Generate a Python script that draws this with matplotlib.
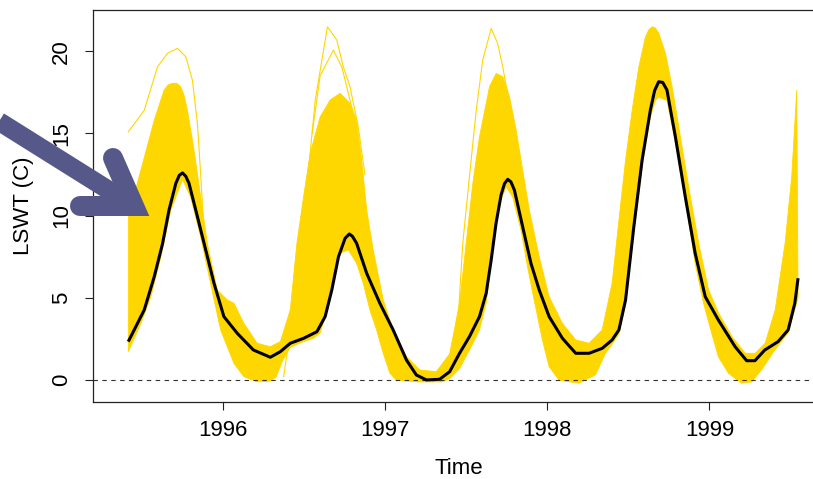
import matplotlib
matplotlib.use("Agg")
import matplotlib.pyplot as plt
from matplotlib.lines import Line2D

plt.rcParams['font.family'] = ['Liberation Sans', 'DejaVu Sans']

# ensemble mean lake surface water temperature
mean_t = [1995.419, 1995.517, 1995.579, 1995.63, 1995.67, 1995.712, 1995.733, 1995.753,
          1995.773, 1995.793, 1995.845, 1995.896, 1995.947, 1996.008, 1996.09, 1996.19,
          1996.294, 1996.356, 1996.417, 1996.499, 1996.581, 1996.632, 1996.673, 1996.714,
          1996.755, 1996.781, 1996.80, 1996.826, 1996.888, 1996.969, 1997.051, 1997.133,
          1997.194, 1997.256, 1997.337, 1997.399, 1997.46, 1997.521, 1997.583, 1997.624,
          1997.655, 1997.685, 1997.716, 1997.737, 1997.757, 1997.777, 1997.798, 1997.849,
          1997.9, 1997.951, 1998.012, 1998.094, 1998.176, 1998.258, 1998.339, 1998.4,
          1998.442, 1998.483, 1998.534, 1998.585, 1998.636, 1998.662, 1998.687, 1998.712,
          1998.738, 1998.79, 1998.851, 1998.912, 1998.974, 1999.055, 1999.158, 1999.229,
          1999.28, 1999.341, 1999.423, 1999.485, 1999.526, 1999.546]
mean_v = [2.35, 4.27, 6.3, 8.3, 10.35, 11.97, 12.45, 12.6,
          12.4, 11.97, 9.94, 7.92, 5.9, 3.87, 2.86, 1.84,
          1.4, 1.74, 2.25, 2.55, 2.95, 3.87, 5.49, 7.5,
          8.63, 8.89, 8.75, 8.32, 6.5, 4.68, 3.06, 1.23,
          0.32, 0.02, 0.06, 0.52, 1.64, 2.65, 3.87, 5.28,
          7.31, 9.54, 11.26, 11.95, 12.21, 12.05, 11.56, 9.33,
          7.11, 5.49, 3.87, 2.55, 1.64, 1.64, 1.94, 2.45,
          3.06, 4.88, 9.33, 13.38, 16.42, 17.6, 18.14, 18.1,
          17.64, 14.8, 11.15, 7.72, 5.08, 3.66, 2.04, 1.19,
          1.19, 1.84, 2.35, 3.06, 4.68, 6.2]

# upper edge of the ensemble spread
hi_t = [1995.419, 1995.497, 1995.579, 1995.64, 1995.665, 1995.69, 1995.716, 1995.742,
        1995.763, 1995.783, 1995.824, 1995.865, 1995.906, 1995.967, 1996.029, 1996.07,
        1996.131, 1996.213, 1996.294, 1996.356, 1996.417, 1996.458, 1996.499, 1996.54,
        1996.601, 1996.663, 1996.724, 1996.785, 1996.826, 1996.857, 1996.888, 1996.928,
        1996.99, 1997.051, 1997.133, 1997.215, 1997.317, 1997.399, 1997.46, 1997.501,
        1997.542, 1997.583, 1997.645, 1997.686, 1997.727, 1997.768, 1997.809, 1997.849,
        1997.89, 1997.951, 1998.012, 1998.094, 1998.176, 1998.258, 1998.339, 1998.4,
        1998.442, 1998.483, 1998.524, 1998.565, 1998.606, 1998.627, 1998.647, 1998.668,
        1998.688, 1998.729, 1998.77, 1998.821, 1998.872, 1998.934, 1998.995, 1999.057,
        1999.139, 1999.221, 1999.282, 1999.343, 1999.405, 1999.466, 1999.507, 1999.538]
hi_v = [9.94, 12.78, 15.8, 17.64, 17.95, 18.04, 18.05, 17.84,
        17.3, 16.42, 14.0, 11.15, 8.32, 5.49, 4.88, 4.68,
        3.46, 2.25, 2.04, 2.35, 4.27, 8.32, 11.15, 13.79,
        16.0, 17.03, 17.44, 16.83, 15.81, 13.38, 10.35, 7.92,
        4.88, 3.06, 1.43, 0.63, 0.52, 1.6, 4.68, 8.32,
        11.97, 14.8, 17.84, 18.65, 18.44, 17.23, 15.2, 12.78,
        10.35, 7.51, 5.08, 3.46, 2.45, 2.25, 3.06, 5.89,
        9.7, 13.38, 16.42, 19.05, 20.87, 21.3, 21.48, 21.4,
        21.08, 19.87, 17.84, 14.8, 11.76, 8.32, 5.49, 4.07,
        2.65, 1.64, 1.64, 2.25, 4.27, 8.32, 12.37, 17.64]

# lower edge of the ensemble spread
lo_t = [1995.419, 1995.497, 1995.558, 1995.62, 1995.681, 1995.742, 1995.753, 1995.803,
        1995.865, 1995.926, 1995.988, 1996.07, 1996.131, 1996.213, 1996.294, 1996.33,
        1996.37, 1996.417, 1996.499, 1996.56, 1996.601, 1996.642, 1996.683, 1996.724,
        1996.775, 1996.826, 1996.867, 1996.908, 1996.949, 1996.99, 1997.031, 1997.072,
        1997.2, 1997.35, 1997.399, 1997.46, 1997.521, 1997.583, 1997.624, 1997.665,
        1997.706, 1997.747, 1997.787, 1997.839, 1997.879, 1997.92, 1997.971, 1998.012,
        1998.074, 1998.196, 1998.298, 1998.359, 1998.4, 1998.442, 1998.483, 1998.534,
        1998.585, 1998.636, 1998.667, 1998.687, 1998.738, 1998.79, 1998.851, 1998.912,
        1998.963, 1999.014, 1999.055, 1999.117, 1999.198, 1999.26, 1999.321, 1999.403,
        1999.485, 1999.546]
lo_v = [1.74, 3.46, 5.08, 7.5, 10.35, 11.9, 12.2, 11.15,
        8.72, 5.89, 3.06, 1.03, 0.22, -0.1, -0.05, 0.2,
        1.2, 2.0, 2.35, 2.55, 2.86, 4.27, 6.3, 7.72,
        7.92, 7.11, 5.89, 4.27, 3.06, 1.64, 0.43, 0.0,
        -0.1, -0.1, 0.1, 0.7, 1.84, 3.06, 4.68, 7.92,
        10.75, 11.76, 11.15, 9.13, 6.9, 4.88, 2.45, 0.83,
        0.0, -0.18, 0.33, 1.64, 2.2, 2.8, 4.6, 9.0,
        13.0, 16.0, 17.0, 17.2, 17.0, 14.5, 11.0, 7.1,
        4.7, 2.86, 1.43, 0.43, -0.18, -0.1, 0.63, 1.84,
        2.9, 5.0]

# the warmest individual members, standing clear of the spread at the peaks
out1_t = [1995.419, 1995.517, 1995.599, 1995.661, 1995.722, 1995.773, 1995.814, 1995.845,
          1995.865, 1995.88]
out1_v = [15.1, 16.4, 19.05, 19.87, 20.17, 19.66, 18.24, 15.6, 12.5, 10.0]
out2_t = [1996.376, 1996.437, 1996.489, 1996.52, 1996.571, 1996.646, 1996.704, 1996.744,
          1996.785, 1996.836, 1996.877]
out2_v = [0.22, 4.27, 8.9, 11.8, 17.03, 21.48, 20.67, 19.05, 17.84, 15.4, 12.5]
out3_t = [1996.552, 1996.601, 1996.683, 1996.736, 1996.798, 1996.847]
out3_v = [15.0, 18.5, 20.07, 19.0, 16.5, 13.5]
out4_t = [1997.45, 1997.48, 1997.521, 1997.563, 1997.603, 1997.655, 1997.695, 1997.726,
          1997.756]
out4_v = [3.5, 8.32, 12.37, 16.42, 19.46, 21.38, 20.47, 19.05, 17.44]

years = [1996, 1997, 1998, 1999]
temps = [0, 5, 10, 15, 20]

gold = '#FFD700'
W, H = 813, 479

fig = plt.figure(figsize=(W / 100, H / 100), dpi=100)
ax = fig.add_axes([93 / W, 1 - 402 / H, 732 / W, 392 / H])

band_x = hi_t + lo_t[::-1]
band_y = hi_v + lo_v[::-1]
ax.fill(band_x, band_y, color=gold, lw=0.6, ec=gold, zorder=1)
for t, v in [(out1_t, out1_v), (out2_t, out2_v), (out3_t, out3_v), (out4_t, out4_v)]:
    ax.plot(t, v, color=gold, lw=0.8, zorder=1)

ax.axhline(0, color='#333333', lw=0.8, ls=(0, (4, 4)), zorder=2)
ax.plot(mean_t, mean_v, color='black', lw=2.2, zorder=3,
        solid_joinstyle='round', solid_capstyle='butt')

ax.set_xlim(1995.2015, 1999.712)
ax.set_ylim(-1.32, 22.5)
ax.set_xticks(years)
ax.set_yticks(temps)
ax.set_xticklabels([str(y) for y in years])
ax.set_yticklabels([str(v) for v in temps], rotation=90, va='center')
ax.tick_params(axis='both', length=5.8, width=0.8, labelsize=16, color='#222222')
ax.tick_params(axis='x', pad=7)
ax.tick_params(axis='y', pad=9.5)
for s in ax.spines.values():
    s.set_linewidth(0.9)
    s.set_color('#222222')

ax.set_xlabel('Time', fontsize=16, va='center')
ax.xaxis.set_label_coords(0.5, -(468 - 402) / 392)
ax.set_ylabel('LSWT (C)', fontsize=16, va='center', ha='center')
ax.yaxis.set_label_coords((23 - 93) / 732, 0.5)


# pointer arrow, drawn in figure pixels
def fpx(xs, ys):
    return [x / W for x in xs], [1 - y / H for y in ys]


arrow_col = '#56588a'
cx, cy = 134, 206
sx, sy = fpx([-40, cx], [97, cy])
fig.add_artist(Line2D(sx, sy, color=arrow_col, lw=13.5, solid_capstyle='butt',
                      transform=fig.transFigure))
hx, hy = fpx([113, cx, 80], [158, cy, 206])
fig.add_artist(Line2D(hx, hy, color=arrow_col, lw=14.4, solid_capstyle='round',
                      solid_joinstyle='miter', transform=fig.transFigure))

fig.savefig('out.png', dpi=100)
